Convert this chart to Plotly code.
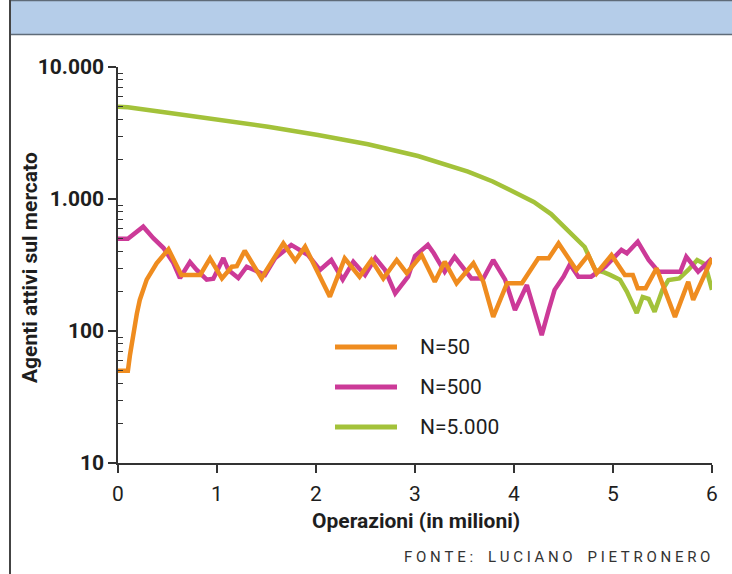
import plotly.graph_objects as go

# ---------------- data ----------------
x50 = [0, 0.1, 0.12, 0.155, 0.19, 0.22, 0.29, 0.39, 0.51, 0.64, 0.83, 0.93, 1.05, 1.15, 1.2, 1.28,
       1.45, 1.49, 1.67, 1.79, 1.89, 2.14, 2.29, 2.44, 2.56, 2.68, 2.815, 2.916, 3.067, 3.2, 3.3,
       3.42, 3.59, 3.69, 3.79, 3.93, 4.08, 4.245, 4.35, 4.45, 4.63, 4.75, 4.835, 4.985, 5.12, 5.2,
       5.25, 5.33, 5.44, 5.626, 5.76, 5.81, 6.0]
y50 = [50, 50, 65, 96, 135, 172, 245, 326, 416, 266, 266, 355, 250, 307, 310, 406,
       250, 281, 461, 341, 435, 182, 355, 258, 345, 250, 345, 274, 376, 236, 335,
       230, 326, 236, 128, 230, 230, 355, 355, 461, 290, 376, 274, 376, 266, 266,
       211, 211, 299, 128, 236, 172, 355]

x500 = [0, 0.1, 0.255, 0.357, 0.46, 0.56, 0.626, 0.727, 0.795, 0.896, 0.963, 1.064, 1.114, 1.215,
        1.3, 1.4, 1.485, 1.586, 1.75, 1.92, 2.04, 2.155, 2.27, 2.377, 2.495, 2.6, 2.697, 2.8, 2.93,
        3.0, 3.08, 3.13, 3.19, 3.3, 3.4, 3.47, 3.57, 3.69, 3.79, 3.91, 4.01, 4.13, 4.2, 4.28, 4.35,
        4.41, 4.5, 4.565, 4.65, 4.78, 4.92, 5.085, 5.14, 5.25, 5.36, 5.46, 5.58, 5.68, 5.74, 5.86, 6.0]
y500 = [500, 500, 617, 505, 425, 327, 252, 333, 290, 245, 249, 357, 290, 252,
        307, 281, 266, 355, 449, 376, 290, 345, 245, 335, 266, 357, 290, 193, 258,
        370, 411, 449, 388, 281, 365, 316, 250, 250, 345, 245, 144, 223, 152, 93, 144,
        205, 258, 320, 258, 258, 307, 411, 388, 475, 345, 281, 281, 281, 365, 281, 355]

x5000 = [0, 0.1, 0.505, 1.01, 1.515, 2.02, 2.525, 3.03, 3.535, 3.785, 4.04, 4.2, 4.375, 4.5, 4.6,
         4.714, 4.82, 4.9, 4.97, 5.07, 5.14, 5.24, 5.3, 5.36, 5.42, 5.5, 5.56, 5.67, 5.76, 5.85,
         5.93, 6.0]
y5000 = [5000, 4950, 4500, 4018, 3530, 3055, 2596, 2118, 1610, 1358, 1104, 949, 769, 624, 525,
         433, 290, 280, 266, 245, 199, 137, 181, 175, 140, 205, 243, 250, 290, 345,
         320, 205]

series_names = ["N=50", "N=500", "N=5.000"]
x_ticks = [0, 1, 2, 3, 4, 5, 6]
y_ticks = [10, 100, 1000, 10000]
y_ticktext = ["10", "100", "1.000", "10.000"]
y_minor = [m * d for d in (10, 100, 1000) for m in range(2, 10)]

x_title = "Operazioni (in milioni)"
y_title = "Agenti attivi sul mercato"
source_words = ["FONTE:", "LUCIANO", "PIETRONERO"]

# ---------------- style ----------------
C50, C500, C5000 = "#ef8c1f", "#cc3a98", "#a3c23a"
FONT = "Roboto"
TXT = "#1e1e1e"
AX = "#333333"
W, H = 732, 574
L, R, T, B = 118, 20, 67, 111
PW, PH = W - L - R, H - T - B
NB = "\u00a0"


def px(xp):
    return (xp - L) / PW


def py(yp):
    return (H - B - yp) / PH


fig = go.Figure()
fig.add_trace(go.Scatter(x=x5000, y=y5000, mode="lines", name=series_names[2],
                         line=dict(color=C5000, width=4.5), showlegend=False))
fig.add_trace(go.Scatter(x=x500, y=y500, mode="lines", name=series_names[1],
                         line=dict(color=C500, width=4.5), showlegend=False))
fig.add_trace(go.Scatter(x=x50, y=y50, mode="lines", name=series_names[0],
                         line=dict(color=C50, width=4.5), showlegend=False))

shapes = []
annotations = []

# top banner and frame
shapes.append(dict(type="rect", xref="paper", yref="paper",
                   x0=px(10), x1=px(733), y0=py(34), y1=py(-1),
                   fillcolor="#b5cde9", line=dict(width=0), layer="below"))
shapes.append(dict(type="line", xref="paper", yref="paper",
                   x0=px(10), x1=px(733), y0=py(34.5), y1=py(34.5),
                   line=dict(color="#5f6b78", width=1.5)))
shapes.append(dict(type="line", xref="paper", yref="paper",
                   x0=px(10), x1=px(733), y0=py(0.5), y1=py(0.5),
                   line=dict(color="#5f6b78", width=1.5)))
shapes.append(dict(type="line", xref="paper", yref="paper",
                   x0=px(10), x1=px(10), y0=py(0), y1=py(H),
                   line=dict(color="#444444", width=2)))

# legend
leg_rows = [(347, C50, series_names[0]), (387, C500, series_names[1]), (427, C5000, series_names[2])]
for yy, col, name in leg_rows:
    shapes.append(dict(type="line", xref="paper", yref="paper",
                       x0=px(335), x1=px(397), y0=py(yy), y1=py(yy),
                       line=dict(color=col, width=5)))
    annotations.append(dict(xref="paper", yref="paper", x=px(418), y=py(yy),
                            xanchor="left", yanchor="middle", showarrow=False,
                            text=name, font=dict(family=FONT, size=21, color=TXT)))

# titles
annotations.append(dict(xref="paper", yref="paper", x=px(30), y=py(268),
                        xanchor="center", yanchor="middle", showarrow=False, textangle=-90,
                        text=y_title, font=dict(family=FONT, size=21, color=TXT, weight="bold")))
annotations.append(dict(xref="paper", yref="paper", x=px(416), y=py(521),
                        xanchor="center", yanchor="middle", showarrow=False,
                        text=x_title, font=dict(family=FONT, size=21, color=TXT, weight="bold")))
source = (NB * 4).join(NB.join(list(w)) for w in source_words)
annotations.append(dict(xref="paper", yref="paper", x=px(712), y=py(557),
                        xanchor="right", yanchor="middle", showarrow=False,
                        text=source, font=dict(family=FONT, size=15, color="#333333")))

fig.update_layout(
    width=W, height=H,
    margin=dict(l=L, r=R, t=T, b=B),
    paper_bgcolor="white", plot_bgcolor="white",
    shapes=shapes, annotations=annotations,
    font=dict(family=FONT, color=TXT),
    showlegend=False,
)
fig.update_xaxes(
    range=[0, 6], tickvals=x_ticks, ticks="outside", ticklen=8, tickwidth=1.5,
    tickcolor=AX, showline=True, linecolor=AX, linewidth=1.5, showgrid=False,
    zeroline=False, ticklabelstandoff=3,
    tickfont=dict(family=FONT, size=21, color=TXT, weight="normal"),
)
fig.update_yaxes(
    type="log", range=[1, 4], tickvals=y_ticks, ticktext=y_ticktext,
    ticks="outside", ticklen=8, tickwidth=1.5, tickcolor=AX,
    showline=True, linecolor=AX, linewidth=1.5, showgrid=False, zeroline=False,
    tickfont=dict(family=FONT, size=21, color=TXT, weight="bold"),
    minor=dict(tickvals=y_minor, ticks="inside", ticklen=5, tickwidth=1, tickcolor=AX,
               showgrid=False),
)

fig.write_html("out.html", config={"displayModeBar": False},
               post_script="document.body.style.margin='0px';")
